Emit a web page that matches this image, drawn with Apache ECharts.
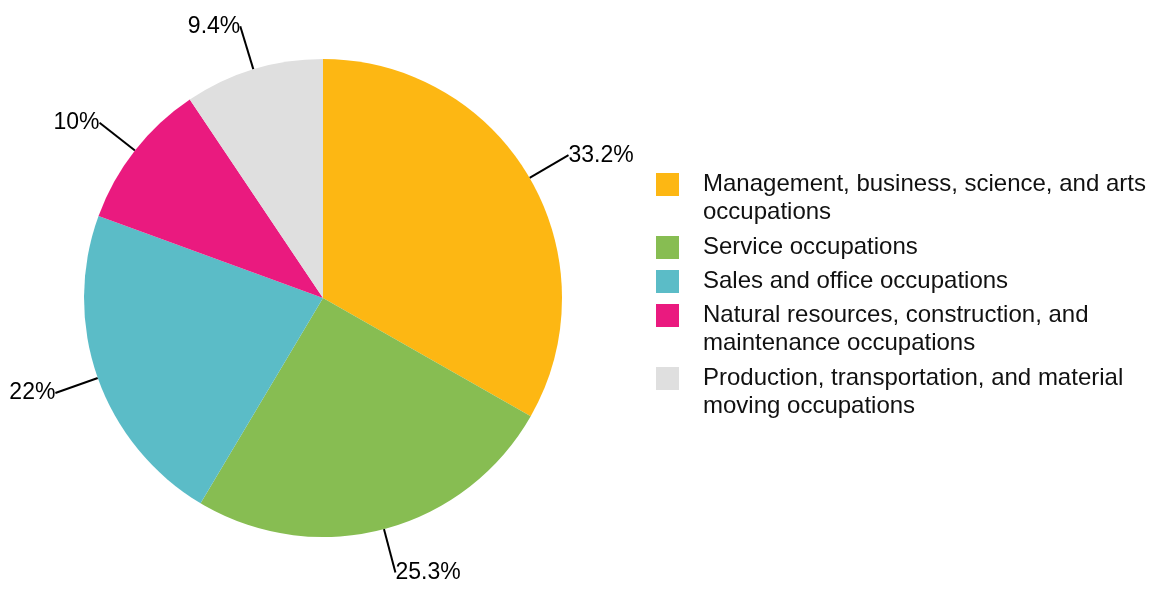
<!DOCTYPE html>
<html><head><meta charset="utf-8">
<script src="https://cdn.jsdelivr.net/npm/echarts@6/dist/echarts.min.js"></script>
<style>html,body{margin:0;padding:0;background:#fff}#c{width:1167px;height:591px}</style>
</head><body><div id="c"></div>
<script>
const categories = [
  'Management, business, science, and arts occupations',
  'Service occupations',
  'Sales and office occupations',
  'Natural resources, construction, and maintenance occupations',
  'Production, transportation, and material moving occupations'
];
const values = [33.2, 25.3, 22, 10, 9.4];
const colors = ['#FDB713', '#87BD52', '#5BBCC7', '#EA1A7F', '#DFDFDF'];

const FONT = 'Liberation Sans, Arial, sans-serif';
const LEG_W = 460;
const ctx = document.createElement('canvas').getContext('2d');
ctx.font = '24px ' + FONT;

const legends = [];
let iconTop = 173;
categories.forEach((name, i) => {
  const lines = ctx.measureText(name).width > LEG_W ? 2 : 1;
  const lh = 27.5;
  const totalLines = lines === 2 ? 3 : 1;
  const boxH = totalLines * lh;
  const rectY = Math.min(0, 11.5 - boxH / 2);
  legends.push({
    left: 656, top: iconTop + rectY, padding: 0,
    orient: 'vertical', icon: 'rect', itemWidth: 23, itemHeight: 23,
    selectedMode: false, data: [name],
    formatter: n => (lines === 2 ? '\n' : '') + n,
    textStyle: { fontSize: 24, fontFamily: FONT, color: '#111', lineHeight: lh,
      width: LEG_W, overflow: 'break', padding: [0, 0, 0, 19] }
  });
  iconTop += lines === 2 ? 63 : 34;
});

const chart = echarts.init(document.getElementById('c'), null, { renderer: 'canvas' });
chart.setOption({
  backgroundColor: '#fff',
  animation: false,
  color: colors,
  legend: legends,
  series: [{
    type: 'pie',
    center: [323, 298],
    radius: 239,
    startAngle: 90,
    clockwise: true,
    avoidLabelOverlap: false,
    itemStyle: { borderWidth: 0 },
    label: {
      show: true, position: 'outside', distanceToLabelLine: 0,
      formatter: p => p.value + '%',
      fontSize: 23, fontFamily: FONT, color: '#000'
    },
    labelLine: { show: true, length: 45, length2: 0, smooth: false,
      lineStyle: { color: '#000', width: 2 } },
    emphasis: { disabled: true },
    data: categories.map((n, i) => ({ name: n, value: values[i] }))
  }]
});
</script></body></html>
